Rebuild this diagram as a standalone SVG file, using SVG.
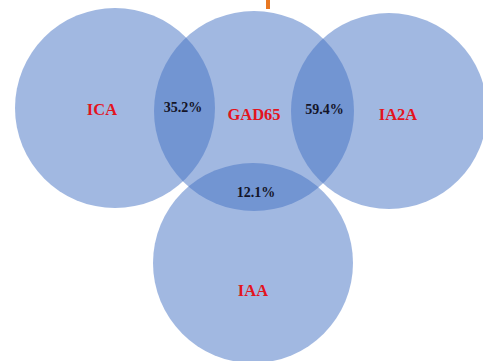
<svg xmlns="http://www.w3.org/2000/svg" width="483" height="361" viewBox="0 0 483 361">
<style>
.c{fill:#4472C4;fill-opacity:0.5}
.lbl{font-family:"Liberation Serif","Times New Roman",serif;font-weight:bold;font-size:16.5px;fill:#E3141E;text-anchor:middle}
.pct{font-family:"Liberation Serif","Times New Roman",serif;font-weight:bold;font-size:14px;fill:#141428;text-anchor:middle}
</style>
<rect width="483" height="361" fill="#fff"/>
<rect x="266" y="0" width="4" height="9" fill="#E87722"/>
<g id="ICA"><circle class="c" cx="115" cy="108" r="100"/><text class="lbl" x="102" y="115">ICA</text></g>
<g id="GAD65"><circle class="c" cx="254" cy="111" r="100"/><text class="lbl" x="254" y="120">GAD65</text></g>
<g id="IA2A"><circle class="c" cx="389" cy="111" r="98"/><text class="lbl" x="398" y="120">IA2A</text></g>
<g id="IAA"><circle class="c" cx="253" cy="263" r="100"/><text class="lbl" x="253" y="296">IAA</text></g>
<g id="overlaps">
<text class="pct" x="183" y="111.5">35.2%</text>
<text class="pct" x="324.5" y="114">59.4%</text>
<text class="pct" x="256" y="196.5">12.1%</text>
</g>
<g id="connectors"/>
</svg>
